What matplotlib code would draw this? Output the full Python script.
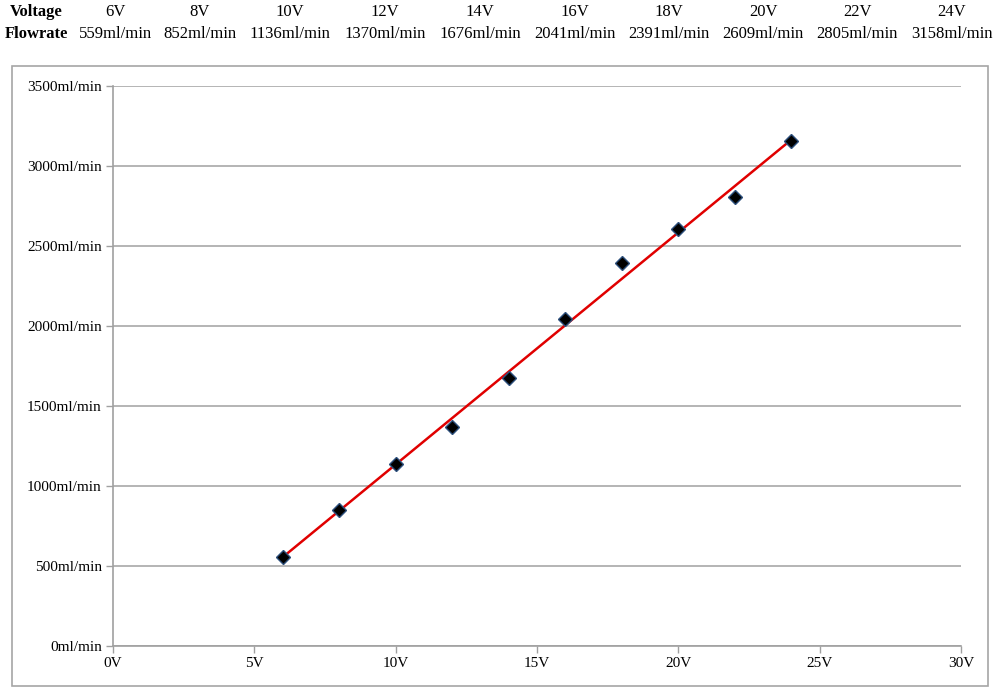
import numpy as np
import matplotlib
matplotlib.use("Agg")
import matplotlib.pyplot as plt
from matplotlib.patches import Rectangle

voltage = [6, 8, 10, 12, 14, 16, 18, 20, 22, 24]
flowrate = [559, 852, 1136, 1370, 1676, 2041, 2391, 2609, 2805, 3158]
x_ticks = [0, 5, 10, 15, 20, 25, 30]
y_ticks = [0, 500, 1000, 1500, 2000, 2500, 3000, 3500]

plt.rcParams['font.family'] = ['Liberation Serif', 'DejaVu Serif']

W, H = 1000, 689
fig = plt.figure(figsize=(W / 100, H / 100), dpi=100)

# header table
col_x = [115, 200, 290, 385, 480, 575, 669, 763, 857, 952]
hdr_fs = 12
fig.text(36 / W, 1 - 12 / H, "Voltage", ha='center', va='center', fontsize=hdr_fs, fontweight='bold')
fig.text(36 / W, 1 - 34 / H, "Flowrate", ha='center', va='center', fontsize=hdr_fs, fontweight='bold')
for cx, v, f in zip(col_x, voltage, flowrate):
    fig.text(cx / W, 1 - 12 / H, f"{v}V", ha='center', va='center', fontsize=hdr_fs)
    fig.text(cx / W, 1 - 34 / H, f"{f}ml/min", ha='center', va='center', fontsize=hdr_fs)

# chart border
fig.patches.append(Rectangle((12 / W, 1 - 686 / H), 976 / W, 620 / H, transform=fig.transFigure,
                             fill=False, edgecolor='#a6a6a6', linewidth=1.2))

ax = fig.add_axes([113 / W, 1 - 646 / H, 848 / W, 560 / H])
ax.set_xlim(0, 30)
ax.set_ylim(0, 3500)
ax.set_xticks(x_ticks)
ax.set_xticklabels([f"{t}V" for t in x_ticks])
ax.set_yticks(y_ticks)
ax.set_yticklabels([f"{t}ml/min" for t in y_ticks])
ax.tick_params(axis='both', labelsize=11, color='#a0a0a0', length=5, width=1, pad=3)
for s in ['top', 'right']:
    ax.spines[s].set_visible(False)
for s in ['left', 'bottom']:
    ax.spines[s].set_color('#a0a0a0')
    ax.spines[s].set_linewidth(1.2)
ax.yaxis.grid(True, color='#a0a0a0', linewidth=1.1)
ax.set_axisbelow(True)

# linear trendline
coef = np.polyfit(voltage, flowrate, 1)
xs = np.array([min(voltage), max(voltage)])
ax.plot(xs, np.polyval(coef, xs), color='#e00000', linewidth=1.8, zorder=3)
ax.plot(voltage, flowrate, linestyle='none', marker='D', markersize=7,
        markerfacecolor='black', markeredgecolor='#2c4f7c', markeredgewidth=1, zorder=4, clip_on=False)

fig.savefig("out.png", dpi=100)
